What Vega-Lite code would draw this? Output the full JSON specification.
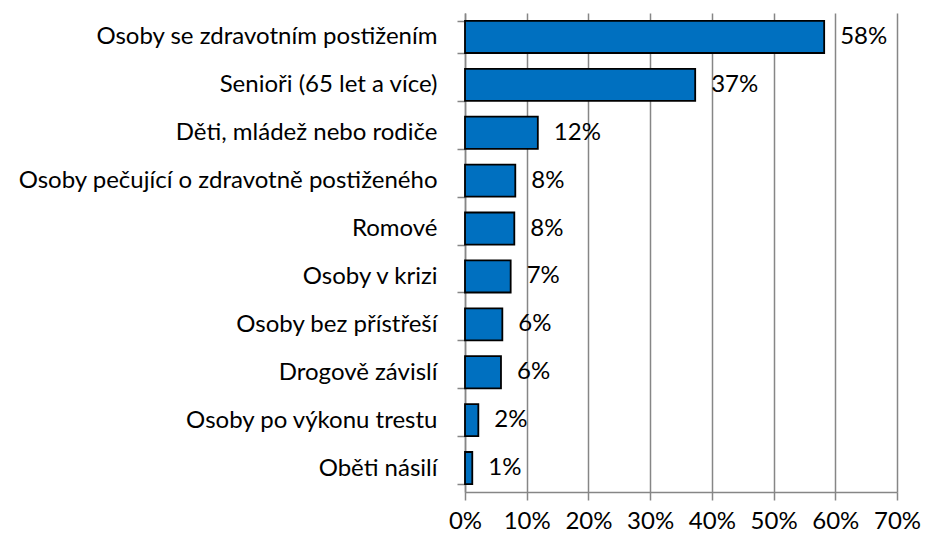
{
  "$schema": "https://vega.github.io/schema/vega-lite/v6.json",
  "width": 432,
  "height": 479,
  "autosize": {"type": "none"},
  "padding": {"left": 465, "top": 13, "right": 30, "bottom": 46},
  "background": "white",
  "config": {
    "view": {"stroke": null},
    "font": "Lato",
    "axis": {"labelFont": "Lato", "labelFontSize": 24, "labelColor": "#000000"}
  },
  "data": {
    "values": [
      {"skupina": "Osoby se zdravotním postižením", "podil": 0.582},
      {"skupina": "Senioři (65 let a více)", "podil": 0.373},
      {"skupina": "Děti, mládež nebo rodiče", "podil": 0.118},
      {"skupina": "Osoby pečující o zdravotně postiženého", "podil": 0.0815},
      {"skupina": "Romové", "podil": 0.0799},
      {"skupina": "Osoby v krizi\u00a0", "podil": 0.074},
      {"skupina": "Osoby bez přístřeší", "podil": 0.0605},
      {"skupina": "Drogově závislí", "podil": 0.0583},
      {"skupina": "Osoby po výkonu trestu", "podil": 0.0216},
      {"skupina": "Oběti násilí", "podil": 0.0118}
    ]
  },
  "encoding": {
    "y": {
      "field": "skupina",
      "type": "nominal",
      "sort": null,
      "title": null,
      "scale": {"paddingInner": 0.33, "paddingOuter": 0.165},
      "axis": {
        "domainColor": "#868686",
        "domainWidth": 1.5,
        "tickColor": "#868686",
        "tickWidth": 1.5,
        "tickSize": 8,
        "tickBand": "extent",
        "labelPadding": 20,
        "labelLimit": 600,
        "labelOverlap": false
      }
    },
    "x": {
      "field": "podil",
      "type": "quantitative",
      "title": null,
      "scale": {"domain": [0, 0.7], "nice": false},
      "axis": {
        "format": ".0%",
        "values": [0, 0.1, 0.2, 0.3, 0.4, 0.5, 0.6, 0.7],
        "grid": true,
        "gridColor": "#868686",
        "gridWidth": 1.5,
        "domainColor": "#868686",
        "domainWidth": 1.5,
        "tickColor": "#868686",
        "tickWidth": 1.5,
        "tickSize": 8,
        "labelPadding": 9,
        "labelBaseline": "top",
        "labelOverlap": false,
        "labelFlush": false
      }
    }
  },
  "layer": [
    {
      "mark": {"type": "bar", "color": "#0070C0", "stroke": "#000000", "strokeWidth": 1.8}
    },
    {
      "mark": {"type": "text", "align": "left", "baseline": "middle", "dx": 16, "fontSize": 24, "font": "Lato", "color": "#000000"},
      "encoding": {
        "text": {"field": "podil", "type": "quantitative", "format": ".0%"}
      }
    }
  ]
}
